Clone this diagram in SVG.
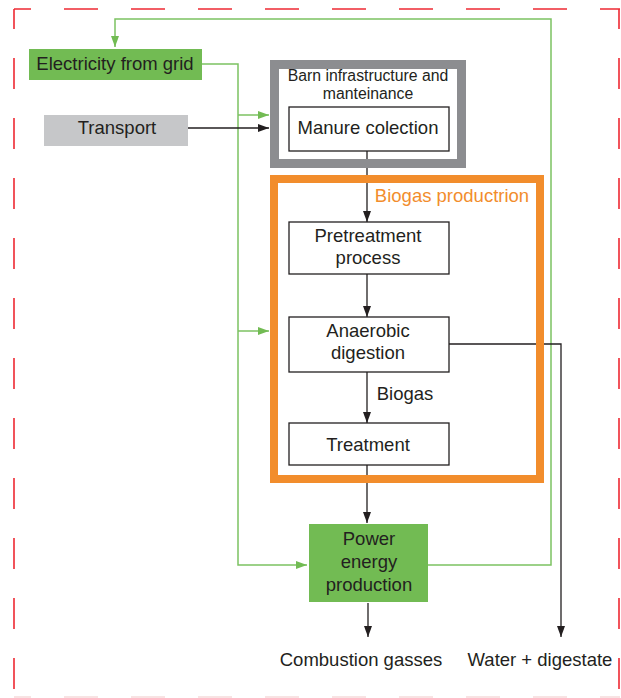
<svg xmlns="http://www.w3.org/2000/svg" width="621" height="698" viewBox="0 0 621 698">
<style>
text{font-family:"Liberation Sans",Arial,sans-serif;fill:#231f20;font-size:18.5px;text-anchor:middle}
.box{fill:#fff;stroke:#231f20;stroke-width:1.3}
.blk{fill:none;stroke:#231f20;stroke-width:1.3}
.grn{fill:none;stroke:#7cc262;stroke-width:1.5}
.red{fill:none;stroke:#ee2a33;stroke-width:1.6}
</style>
<defs>
<marker id="ab" markerWidth="12" markerHeight="8" refX="11" refY="4" orient="auto" markerUnits="userSpaceOnUse"><path d="M0,0 L11,4 L0,8 Z" fill="#231f20"/></marker>
<marker id="ag" markerWidth="12" markerHeight="8" refX="11" refY="4" orient="auto" markerUnits="userSpaceOnUse"><path d="M0,0 L11,4 L0,8 Z" fill="#72bb53"/></marker>
</defs>
<rect width="621" height="698" fill="#fff"/>
<g id="boundary">
<line class="red" x1="14" y1="9" x2="620" y2="9" stroke-dasharray="34 33" stroke-dashoffset="17"/>
<line class="red" x1="14" y1="9" x2="14" y2="698" stroke-dasharray="31 29" stroke-dashoffset="11"/>
<line class="red" x1="619" y1="9" x2="619" y2="698" stroke-dasharray="31 29" stroke-dashoffset="11" stroke="#e8404c"/>
<line x1="14" y1="697" x2="620" y2="697" stroke="#f6dada" stroke-width="1.6" stroke-dasharray="34 33" stroke-dashoffset="17"/>
</g>
<g id="connectors">
<polyline class="grn" points="202,64 238,64 238,565 307,565" marker-end="url(#ag)"/>
<line class="grn" x1="238" y1="115" x2="269" y2="115" marker-end="url(#ag)"/>
<line class="grn" x1="238" y1="331" x2="269" y2="331" marker-end="url(#ag)"/>
<polyline class="grn" points="428,565 551,565 551,19 115,19 115,47" marker-end="url(#ag)"/>
<line class="blk" x1="188" y1="128" x2="269" y2="128" marker-end="url(#ab)"/>
<line class="blk" x1="367" y1="151" x2="367" y2="222" marker-end="url(#ab)"/>
<line class="blk" x1="367" y1="274" x2="367" y2="317" marker-end="url(#ab)"/>
<line class="blk" x1="367" y1="372" x2="367" y2="423" marker-end="url(#ab)"/>
<line class="blk" x1="367" y1="465" x2="367" y2="523" marker-end="url(#ab)"/>
<line class="blk" x1="368" y1="603" x2="368" y2="637" marker-end="url(#ab)"/>
<polyline class="blk" points="449,344 561,344 561,637" marker-end="url(#ab)"/>
</g>
<g id="electricity">
<rect x="29" y="49" width="173" height="31" fill="#72bb53"/>
<text x="115" y="70">Electricity from grid</text>
</g>
<g id="transport">
<rect x="44" y="115" width="144" height="31" fill="#c6c7c9"/>
<text x="117" y="134">Transport</text>
</g>
<g id="barn">
<rect x="274.5" y="64.5" width="187" height="99" fill="none" stroke="#8c8d90" stroke-width="9"/>
<text x="368" y="81" style="font-size:15.8px">Barn infrastructure and</text>
<text x="368" y="99" style="font-size:15.8px">manteinance</text>
</g>
<g id="manure">
<rect class="box" x="289" y="107" width="160" height="44"/>
<text x="368" y="134">Manure colection</text>
</g>
<g id="biogas-production">
<rect x="274" y="179" width="266" height="300" fill="none" stroke="#f28d2c" stroke-width="8"/>
<text x="452" y="202" style="fill:#f28d2c">Biogas productrion</text>
</g>
<g id="pretreatment">
<rect class="box" x="289" y="222" width="160" height="52"/>
<text x="368" y="242">Pretreatment</text>
<text x="368" y="264">process</text>
</g>
<g id="anaerobic">
<rect class="box" x="289" y="317" width="160" height="55"/>
<text x="368" y="337">Anaerobic</text>
<text x="368" y="359">digestion</text>
</g>
<text x="405" y="400">Biogas</text>
<g id="treatment">
<rect class="box" x="289" y="423" width="160" height="42"/>
<text x="368" y="451">Treatment</text>
</g>
<g id="power">
<rect x="309" y="524" width="119" height="78" fill="#72bb53"/>
<text x="369" y="545">Power</text>
<text x="369" y="568">energy</text>
<text x="369" y="591">production</text>
</g>
<g id="outputs">
<text x="361" y="666">Combustion gasses</text>
<text x="540" y="666">Water + digestate</text>
</g>
</svg>
